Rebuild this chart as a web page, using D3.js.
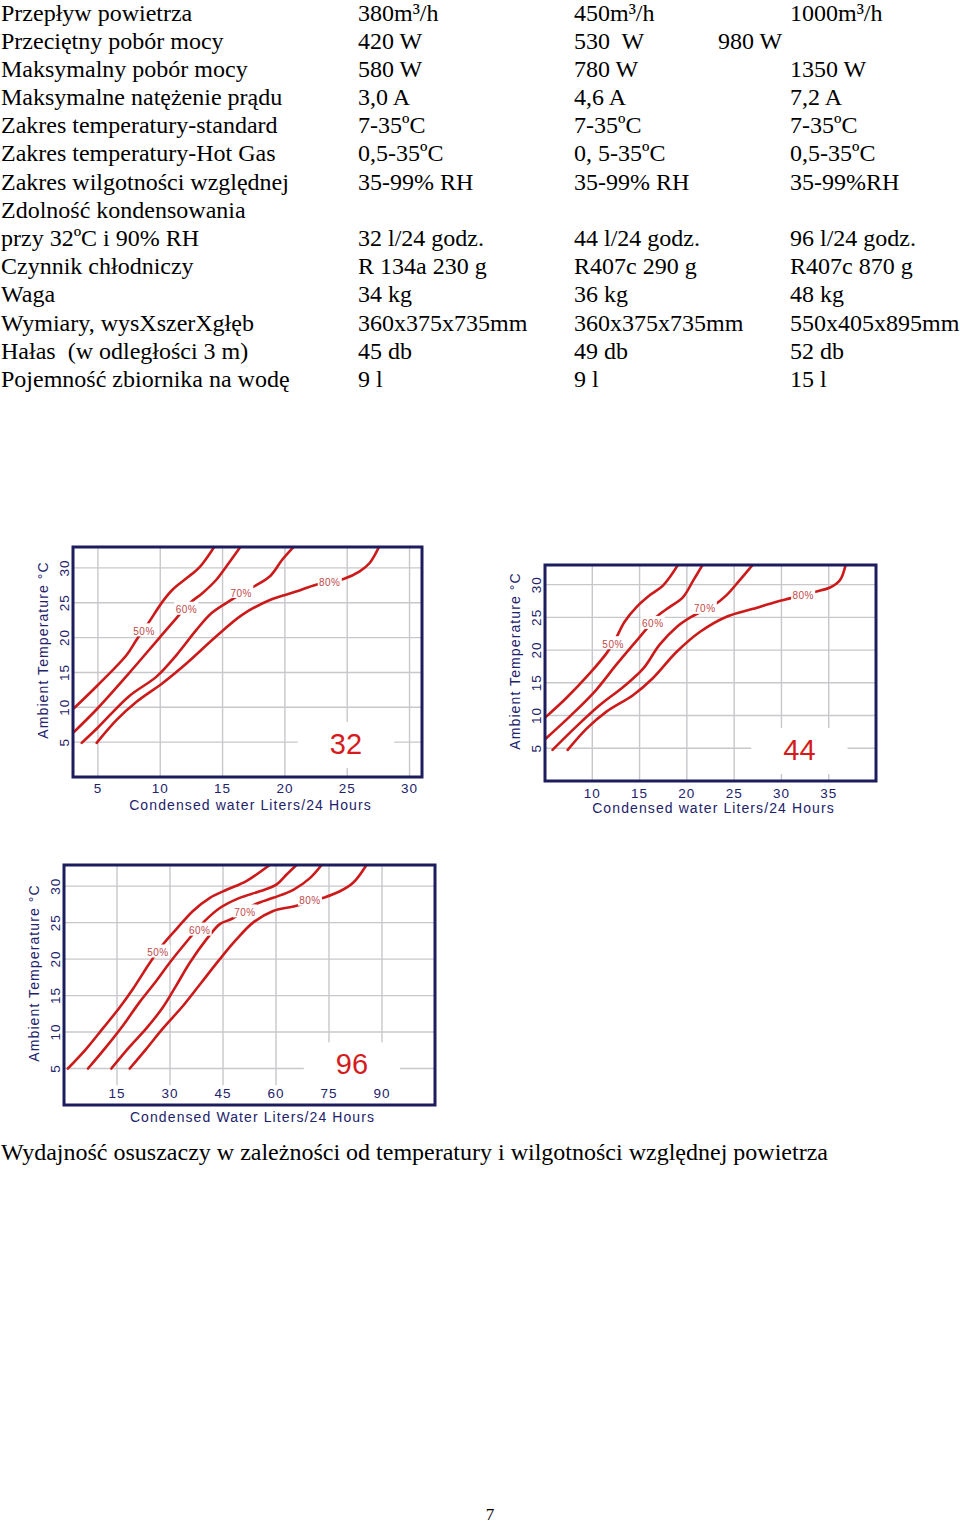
<!DOCTYPE html>
<html>
<head>
<meta charset="utf-8">
<script src="https://cdn.jsdelivr.net/npm/d3@7"></script>
<style>
  body { margin: 0; background: #fff; }
  svg { display: block; }
  .tbl { font-family: "Liberation Serif", "Times New Roman", serif; font-size: 24px; fill: #000; }
  .tick { font-family: "Liberation Sans", Arial, sans-serif; font-size: 13.5px; fill: #22226a; letter-spacing: 1px; }
  .ttl { font-family: "Liberation Sans", Arial, sans-serif; font-size: 14px; fill: #22226a; letter-spacing: 1.1px; }
  .pct { font-family: "Liberation Sans", Arial, sans-serif; font-size: 10px; fill: #c04848; letter-spacing: 0.5px; }
  .big { font-family: "Liberation Sans", Arial, sans-serif; font-size: 29px; fill: #d41c1c; }
</style>
</head>
<body>
<div id="page"></div>
<script>
// ---- specification table ----
var rowLabels = ["Przepływ powietrza", "Przeciętny pobór mocy", "Maksymalny pobór mocy",
  "Maksymalne natężenie prądu", "Zakres temperatury-standard", "Zakres temperatury-Hot Gas",
  "Zakres wilgotności względnej", "Zdolność kondensowania", "przy 32ºC i 90% RH",
  "Czynnik chłodniczy", "Waga", "Wymiary, wysXszerXgłęb", "Hałas  (w odległości 3 m)",
  "Pojemność zbiornika na wodę"];
var model32 = ["380m³/h", "420 W", "580 W", "3,0 A", "7-35ºC", "0,5-35ºC", "35-99% RH", "",
  "32 l/24 godz.", "R 134a 230 g", "34 kg", "360x375x735mm", "45 db", "9 l"];
var model44 = ["450m³/h", "530  W", "780 W", "4,6 A", "7-35ºC", "0, 5-35ºC", "35-99% RH", "",
  "44 l/24 godz.", "R407c 290 g", "36 kg", "360x375x735mm", "49 db", "9 l"];
var model96 = ["1000m³/h", "", "1350 W", "7,2 A", "7-35ºC", "0,5-35ºC", "35-99%RH", "",
  "96 l/24 godz.", "R407c 870 g", "48 kg", "550x405x895mm", "52 db", "15 l"];
var model96Shifted = ["", "980 W", "", "", "", "", "", "", "", "", "", "", "", ""];

// ---- chart 32 l ----
var ticks32X = [5, 10, 15, 20, 25, 30];
var ticksY = [5, 10, 15, 20, 25, 30];
var humidity = ["50%", "60%", "70%", "80%"];
var c32_50 = [[3.1,9.9],[5,13.2],[7.3,17.5],[8.1,19.7],[8.9,21.7],[10.2,25.2],[11.0,26.9],[12.1,28.5],[13.2,30.2],[14.4,33.2]];
var c32_60 = [[3.1,6.5],[5,9.9],[7.5,14.9],[9.9,19.9],[11.3,22.8],[12.4,25.0],[13.4,26.4],[14.5,28.3],[15.3,30.2],[16.5,33.2]];
var c32_70 = [[3.7,4.9],[5,7.1],[7.5,11.6],[9.7,14.4],[11.3,17.5],[12.9,21.1],[14.1,23.5],[15.7,25.4],[17.3,27.1],[18.8,28.8],[19.8,31.2],[20.8,33.2]];
var c32_80 = [[4.9,4.9],[6.5,8.2],[8.1,10.8],[10.2,13.5],[12.1,16.3],[14.5,20.2],[16.6,23.3],[18.8,25.4],[20.9,26.6],[22.5,27.6],[24.7,28.4],[26.0,29.5],[26.8,30.7],[27.6,33.2]];
var lbl32 = [[8.7,20.9],[12.1,24.0],[16.5,26.4],[23.6,27.9]];

// ---- chart 44 l ----
var ticks44X = [10, 15, 20, 25, 30, 35];
var c44_50 = [[5.1,9.8],[7.2,12.6],[9.7,16.4],[11.5,19.5],[12.4,21.5],[13.4,24.3],[14.7,26.6],[16.1,28.4],[17.5,29.9],[19.1,33.1]];
var c44_60 = [[5.1,6.5],[7.8,10.1],[10.4,13.9],[12.5,17.7],[14.3,20.8],[15.6,23.0],[16.8,25.1],[18.2,26.6],[19.6,28.1],[20.7,30.7],[21.7,33.1]];
var c44_70 = [[5.8,4.75],[8.3,8.3],[10.8,11.6],[13.3,14.4],[15.4,17.2],[17.1,20.8],[18.9,23.5],[20.5,25.1],[22.8,26.8],[24.2,28.4],[25.6,30.7],[27.0,33.1]];
var c44_80 = [[7.4,4.75],[9.4,8.0],[11.5,10.6],[14.3,13.1],[16.4,15.7],[18.9,19.7],[21.4,22.8],[24.2,25.1],[27.0,26.3],[29.5,27.4],[30.9,27.9],[33.6,28.9],[35.2,29.6],[36.2,30.7],[36.8,33.1]];
var lbl44 = [[12.2,20.9],[16.4,24.0],[21.9,26.3],[32.3,28.4]];

// ---- chart 96 l ----
var ticks96X = [15, 30, 45, 60, 75, 90];
var c96_50 = [[1.1,5.0],[6.3,7.7],[11.0,10.5],[15.8,13.4],[19.5,15.9],[24.3,19.5],[28.0,22.0],[31.8,24.1],[36.5,26.6],[41.3,28.4],[46.0,29.5],[51.6,30.7],[58.2,32.9]];
var c96_60 = [[6.8,5.0],[12.0,8.0],[16.7,10.9],[21.4,14.1],[26.1,17.0],[29.9,19.5],[33.7,21.8],[39.8,25.2],[44.1,27.0],[49.7,28.4],[55.4,29.3],[60.1,30.2],[63.0,31.6],[65.8,32.9]];
var c96_70 = [[13.4,5.0],[18.6,8.0],[23.3,10.5],[28.0,13.4],[31.8,16.4],[35.6,19.5],[40.3,22.7],[44.1,24.8],[47.4,25.5],[54.0,27.5],[59.2,28.4],[64.9,29.5],[69.6,31.1],[72.9,32.9]];
var c96_80 = [[18.6,5.0],[23.3,7.7],[28.0,10.5],[33.7,13.6],[38.9,16.8],[44.1,20.0],[48.8,22.7],[53.5,25.0],[59.2,26.6],[65.8,27.3],[73.4,28.4],[78.1,29.3],[81.9,30.5],[85.6,32.9]];
var lbl96 = [[26.6,20.9],[38.4,23.9],[51.2,26.4],[69.6,28.0]];

var svg = d3.select("#page").append("svg").attr("width", 960).attr("height", 1524);

// table
var rowY = d3.scaleLinear().domain([0, 13]).range([20.5, 387]);
var tbl = svg.append("g").attr("class", "tbl");
function col(values, x) {
  tbl.selectAll(null).data(values).enter().append("text")
    .attr("x", x).attr("y", function(d, i) { return rowY(i); })
    .attr("xml:space", "preserve")
    .text(function(d) { return d; });
}
col(rowLabels, 1);
col(model32, 358);
col(model44, 574);
col(model96Shifted, 718);
col(model96, 790);

var clipId = 0;
function drawChart(opt) {
  var f = opt.frame;
  var x = d3.scaleLinear().domain(opt.xDomain).range([f.left, f.right]);
  var y = d3.scaleLinear().domain(opt.yDomain).range([f.bottom, f.top]);
  var g = svg.append("g");

  // grid
  g.selectAll(null).data(opt.xTicks).enter().append("line")
    .attr("x1", x).attr("x2", x)
    .attr("y1", f.top).attr("y2", opt.vGridEnd != null ? y(opt.vGridEnd) : f.bottom)
    .attr("stroke", "#c8c8cc").attr("stroke-width", 1.4);
  g.selectAll(null).data(ticksY).enter().append("line")
    .attr("y1", y).attr("y2", y)
    .attr("x1", f.left).attr("x2", f.right)
    .attr("stroke", "#c8c8cc").attr("stroke-width", 1.4);

  // big capacity label with white patch
  var big = g.append("text").attr("class", "big")
    .attr("x", x(opt.big[0])).attr("y", y(opt.big[1]))
    .attr("text-anchor", "middle").text(opt.bigText);
  var bb = big.node().getBBox();
  g.insert("rect", "text.big")
    .attr("x", bb.x - 32).attr("y", bb.y - 6)
    .attr("width", bb.width + 64).attr("height", bb.height + 14)
    .attr("fill", "#fff");

  // curves
  clipId++;
  g.append("clipPath").attr("id", "clip" + clipId).append("rect")
    .attr("x", f.left).attr("y", f.top).attr("width", f.right - f.left).attr("height", f.bottom - f.top);
  var line = d3.line().x(function(d) { return x(d[0]); }).y(function(d) { return y(d[1]); })
    .curve(d3.curveCatmullRom.alpha(0.5));
  g.append("g").attr("clip-path", "url(#clip" + clipId + ")")
    .selectAll("path").data(opt.curves).enter().append("path")
    .attr("d", line).attr("fill", "none")
    .attr("stroke", "#cc1a1a").attr("stroke-width", 2.6).attr("stroke-linecap", "round");

  // humidity labels
  var lg = g.selectAll(null).data(opt.labels).enter().append("g");
  lg.append("rect")
    .attr("x", function(d) { return x(d[0]) - 12; })
    .attr("y", function(d) { return y(d[1]) - 8; })
    .attr("width", 24).attr("height", 13).attr("fill", "#fff");
  lg.append("text").attr("class", "pct")
    .attr("x", function(d) { return x(d[0]); })
    .attr("y", function(d) { return y(d[1]) + 3.5; })
    .attr("text-anchor", "middle")
    .text(function(d, i) { return humidity[i]; });

  // frame
  g.append("rect").attr("x", f.left).attr("y", f.top)
    .attr("width", f.right - f.left).attr("height", f.bottom - f.top)
    .attr("fill", "none").attr("stroke", "#1c1c5e").attr("stroke-width", 3);

  // tick labels
  g.selectAll(null).data(opt.xTicks).enter().append("text").attr("class", "tick")
    .attr("x", x).attr("y", f.bottom + opt.xTickDy)
    .attr("text-anchor", "middle").text(function(d) { return d; });
  g.selectAll(null).data(ticksY).enter().append("text").attr("class", "tick")
    .attr("transform", function(d) { return "translate(" + (f.left - 4) + "," + y(d) + ") rotate(-90)"; })
    .attr("text-anchor", "middle").text(function(d) { return d; });

  // titles
  g.append("text").attr("class", "ttl")
    .attr("x", (f.left + f.right) / 2 + 3).attr("y", f.bottom + opt.xTitleDy)
    .attr("text-anchor", "middle").text(opt.xTitle);
  g.append("text").attr("class", "ttl")
    .attr("transform", "translate(" + (f.left - 25) + "," + ((f.top + f.bottom) / 2 - 12) + ") rotate(-90)")
    .attr("text-anchor", "middle").text("Ambient Temperature °C");
}

drawChart({
  frame: { left: 73, top: 547, right: 422, bottom: 777 },
  xDomain: [3, 31], yDomain: [0, 33], xTicks: ticks32X,
  curves: [c32_50, c32_60, c32_70, c32_80], labels: lbl32,
  big: [24.9, 3.3], bigText: "32",
  xTickDy: 16, xTitleDy: 33, xTitle: "Condensed water Liters/24 Hours"
});
drawChart({
  frame: { left: 545, top: 565, right: 876, bottom: 781 },
  xDomain: [5, 40], yDomain: [0, 33], xTicks: ticks44X,
  curves: [c44_50, c44_60, c44_70, c44_80], labels: lbl44,
  big: [31.9, 3.2], bigText: "44",
  xTickDy: 17, xTitleDy: 32, xTitle: "Condensed water Liters/24 Hours"
});
drawChart({
  frame: { left: 64, top: 865, right: 435, bottom: 1105 },
  xDomain: [0, 105], yDomain: [0, 32.9], xTicks: ticks96X, vGridEnd: 2.7,
  curves: [c96_50, c96_60, c96_70, c96_80], labels: lbl96,
  big: [81.5, 4.2], bigText: "96",
  xTickDy: -7, xTitleDy: 17, xTitle: "Condensed Water Liters/24 Hours"
});

svg.append("text").attr("class", "tbl").attr("x", 1).attr("y", 1160)
  .text("Wydajność osuszaczy w zależności od temperatury i wilgotności względnej powietrza");
svg.append("text").attr("class", "tbl").style("font-size", "17px")
  .attr("x", 490).attr("y", 1520).attr("text-anchor", "middle").text("7");
</script>
</body>
</html>
